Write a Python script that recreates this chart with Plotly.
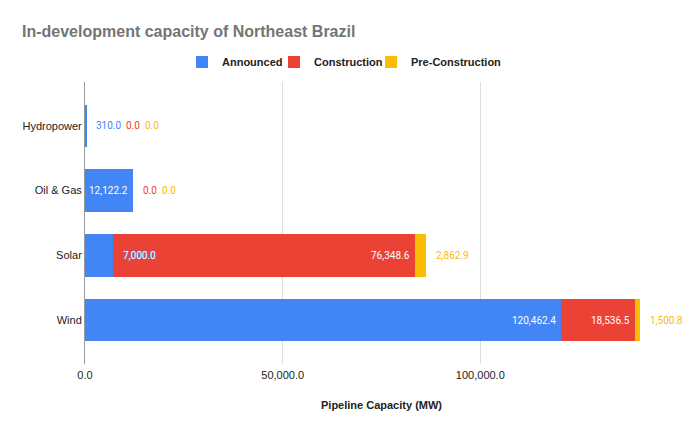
import plotly.graph_objects as go

categories = ["Hydropower", "Oil & Gas", "Solar", "Wind"]
announced = [310.0, 12122.2, 7000.0, 120462.4]
construction = [0.0, 0.0, 76348.6, 18536.5]
pre_construction = [0.0, 0.0, 2862.9, 1500.8]
series_names = ["Announced", "Construction", "Pre-Construction"]
series_colors = ["#4285F4", "#EA4335", "#FBBC04"]
x_tickvals = [0, 50000, 100000, 150000]
x_ticktext = ["0.0", "50,000.0", "100,000.0", ""]

series_values = [announced, construction, pre_construction]

W, H = 700, 433
ML, MR, MT, MB = 85, 22, 82, 69
XMAX = 150000
ppu = (W - ML - MR) / XMAX
FONT = "Liberation Sans, Arial, sans-serif"
LABEL_FONT = "Roboto, Liberation Sans, sans-serif"
LABEL_SIZE = 10
legend_text_x = [222, 314, 411]  # left edge of each legend text (px)


def text_width(s, size=LABEL_SIZE):
    w = 0.0
    for ch in s:
        if ch == ",":
            w += 0.197
        elif ch == ".":
            w += 0.264
        else:
            w += 0.5615
    return w * size


fig = go.Figure()
legend_ids = ["legend", "legend2", "legend3"]
for name, vals, col, lg in zip(series_names, series_values, series_colors, legend_ids):
    fig.add_trace(go.Bar(
        y=categories, x=vals, name=name, orientation="h",
        marker=dict(color=col, line=dict(width=0)),
        hoverinfo="x+name", legend=lg, showlegend=True,
    ))

annotations = []
for i, cat in enumerate(categories):
    total = sum(v[i] for v in series_values)
    total_px = total * ppu
    cum = 0.0
    last_end = -1e9
    for vals, col in zip(series_values, series_colors):
        v = vals[i]
        cum += v
        txt = f"{v:,.1f}"
        w = text_width(txt)
        end_px = cum * ppu
        if v * ppu >= w + 8:
            annotations.append(dict(
                x=cum, y=cat, xref="x", yref="y", text=txt, showarrow=False,
                xanchor="right", xshift=-4, borderpad=0,
                font=dict(color="#ffffff", size=LABEL_SIZE, family=LABEL_FONT),
            ))
        else:
            start_px = max(end_px + 9, last_end + 5)
            overlap = start_px < total_px
            font = dict(color=col, size=LABEL_SIZE, family=LABEL_FONT)
            if overlap:
                font = dict(color="#ffffff", size=LABEL_SIZE, family=LABEL_FONT,
                            shadow=f"0px 0px 2px {col}, 0px 0px 1px {col}")
            annotations.append(dict(
                x=cum, y=cat, xref="x", yref="y", text=txt, showarrow=False,
                xanchor="left", xshift=start_px - end_px, borderpad=0,
                font=font,
            ))
            last_end = start_px + w

legend_common = dict(
    orientation="h", xref="container", xanchor="left",
    y=1 - 62 / H, yref="container", yanchor="middle",
    font=dict(size=11, color="#222222", family=FONT, weight="bold"),
    bgcolor="rgba(0,0,0,0)", borderwidth=0, visible=True,
)

fig.update_layout(
    width=W, height=H,
    margin=dict(l=ML, r=MR, t=MT, b=MB, pad=0, autoexpand=False),
    barmode="stack",
    bargap=0.344,
    showlegend=True,
    plot_bgcolor="#ffffff",
    paper_bgcolor="#ffffff",
    font=dict(family=FONT, color="#222222", size=11),
    title=dict(
        text="<b>In-development capacity of Northeast Brazil</b>",
        x=22 / W, xref="container", xanchor="left",
        y=1 - 31 / H, yref="container", yanchor="middle",
        font=dict(size=16, color="#757575", family=FONT),
    ),
    legend=dict(legend_common, x=(legend_text_x[0] - 40) / W),
    legend2=dict(legend_common, x=(legend_text_x[1] - 40) / W),
    legend3=dict(legend_common, x=(legend_text_x[2] - 40) / W),
    xaxis=dict(
        range=[0, XMAX], tickvals=x_tickvals, ticktext=x_ticktext,
        showgrid=True, gridcolor="#dddddd", gridwidth=1,
        zeroline=False, showline=False, ticks="",
        ticklabelstandoff=3,
        tickfont=dict(size=11, color="#222222"),
        title=dict(text="<b>Pipeline Capacity (MW)</b>", standoff=21,
                   font=dict(size=11, color="#222222")),
        fixedrange=True,
    ),
    yaxis=dict(
        type="category", categoryarray=categories,
        range=[3.676, -0.676],
        showgrid=False, zeroline=False,
        showline=True, linecolor="#999999", linewidth=1,
        ticks="", tickfont=dict(size=11, color="#222222"),
        fixedrange=True,
    ),
    annotations=annotations,
)

fig.write_html("out.html")
